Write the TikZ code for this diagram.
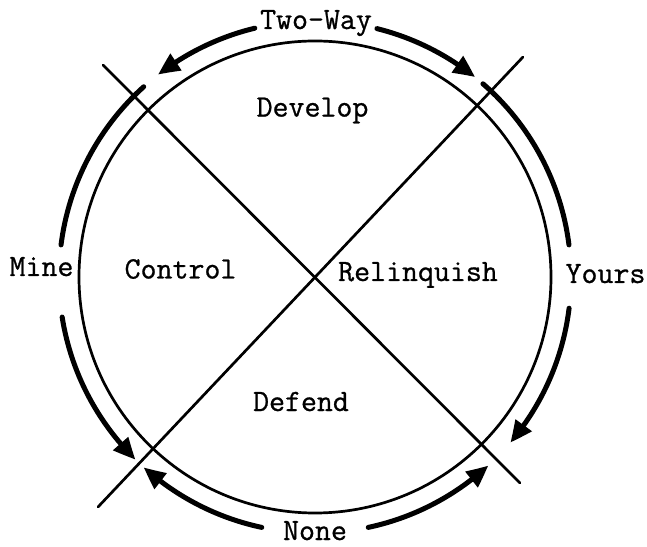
\documentclass[tikz,border=0pt]{standalone}
\usepackage{fontspec}
\newfontfamily\typew{Latin Modern Mono}[FakeBold=0.8]
\usetikzlibrary{arrows.meta,bending}
\begin{document}
\begin{tikzpicture}[x=1pt,y=1pt,
  lbl/.style={font=\fontsize{31}{36}\selectfont\typew, anchor=base, inner sep=0pt},
  ring/.style={line width=2.7pt},
  crossline/.style={line width=2.7pt, line cap=round},
  flow/.style={line width=5pt, line cap=round},
  flowhead/.style={flow, -{Triangle[length=22pt,width=19pt,bend]}}]
\useasboundingbox (0,0) rectangle (647,546);
\coordinate (c) at (315,269);
% circle
\draw[ring] (c) circle[radius=236];
% crossing lines
\coordinate (l1a) at (103,481);
\coordinate (l1b) at (520,63);
\coordinate (l2a) at (98,39);
\coordinate (l2b) at (523,489);
\draw[crossline] (l1a) -- (l1b);
\draw[crossline] (l2a) -- (l2b);
% labels
\node[lbl] (twoway) at (316,517) {Two-Way};
\node[lbl] (develop) at (312.5,429.4) {Develop};
\node[lbl] (control) at (180.5,267.5) {Control};
\node[lbl] (relinq) at (418,265) {Relinquish};
\node[lbl] (defend) at (301,135) {Defend};
\node[lbl] (mine) at (41.5,270) {Mine};
\node[lbl] (yours) at (605.5,263) {Yours};
\node[lbl] (none) at (315,6) {None};
% flow arcs
\draw[flowhead] (c) ++(103.6:256) arc[start angle=103.6, end angle=127.8, radius=256];
\draw[flowhead] (c) ++(76:256) arc[start angle=76, end angle=51.3, radius=256];
\draw[flow] (c) ++(172.8:256) arc[start angle=172.8, end angle=132, radius=256];
\draw[flowhead] (c) ++(189:256) arc[start angle=189, end angle=225.5, radius=256];
\draw[flow] (c) ++(7.2:256) arc[start angle=7.2, end angle=49, radius=256];
\draw[flowhead] (c) ++(-7:256) arc[start angle=-7, end angle=-40.3, radius=256];
\draw[flowhead] (c) ++(258:256) arc[start angle=258, end angle=228, radius=256];
\draw[flowhead] (c) ++(282:256) arc[start angle=282, end angle=312.6, radius=256];
\end{tikzpicture}
\end{document}
